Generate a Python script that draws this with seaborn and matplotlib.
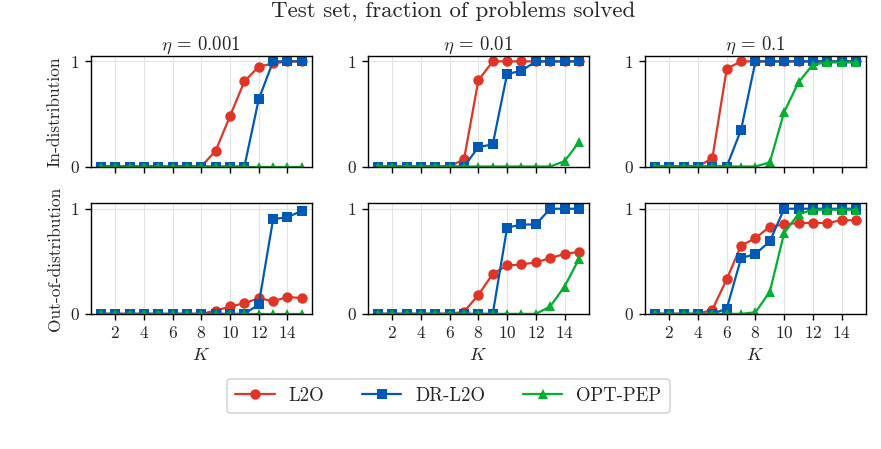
import numpy as np
import pandas as pd
import matplotlib
matplotlib.use("Agg")
import matplotlib.pyplot as plt
import seaborn as sns
from matplotlib.lines import Line2D

K = list(range(1, 16))
methods = ["L2O", "DR-L2O", "OPT-PEP"]
etas = ["0.001", "0.01", "0.1"]
rows = ["In-distribution", "Out-of-distribution"]

# In-distribution
in_l2o_0001 = [0, 0, 0, 0, 0, 0, 0, 0, 0.15, 0.48, 0.81, 0.95, 0.98, 1, 1]
in_dr_0001 = [0, 0, 0, 0, 0, 0, 0, 0, 0, 0, 0, 0.64, 1, 1, 1]
in_pep_0001 = [0, 0, 0, 0, 0, 0, 0, 0, 0, 0, 0, 0, 0, 0, 0]

in_l2o_001 = [0, 0, 0, 0, 0, 0, 0.07, 0.82, 1, 1, 1, 1, 1, 1, 1]
in_dr_001 = [0, 0, 0, 0, 0, 0, 0, 0.185, 0.21, 0.88, 0.91, 1, 1, 1, 1]
in_pep_001 = [0, 0, 0, 0, 0, 0, 0, 0, 0, 0, 0, 0, 0, 0.05, 0.23]

in_l2o_01 = [0, 0, 0, 0, 0.08, 0.93, 1, 1, 1, 1, 1, 1, 1, 1, 1]
in_dr_01 = [0, 0, 0, 0, 0, 0, 0.35, 1, 1, 1, 1, 1, 1, 1, 1]
in_pep_01 = [0, 0, 0, 0, 0, 0, 0, 0, 0.04, 0.52, 0.80, 0.97, 0.99, 0.99, 0.99]

# Out-of-distribution
out_l2o_0001 = [0, 0, 0, 0, 0, 0, 0, 0, 0.03, 0.07, 0.10, 0.15, 0.12, 0.16, 0.15]
out_dr_0001 = [0, 0, 0, 0, 0, 0, 0, 0, 0, 0, 0, 0.09, 0.90, 0.92, 0.98]
out_pep_0001 = [0, 0, 0, 0, 0, 0, 0, 0, 0, 0, 0, 0, 0, 0, 0]

out_l2o_001 = [0, 0, 0, 0, 0, 0, 0.02, 0.18, 0.38, 0.46, 0.47, 0.49, 0.53, 0.57, 0.59]
out_dr_001 = [0, 0, 0, 0, 0, 0, 0, 0, 0, 0.82, 0.85, 0.85, 1, 1, 1]
out_pep_001 = [0, 0, 0, 0, 0, 0, 0, 0, 0, 0, 0, 0, 0.07, 0.26, 0.52]

out_l2o_01 = [0, 0, 0, 0, 0.04, 0.33, 0.65, 0.72, 0.83, 0.85, 0.865, 0.865, 0.865, 0.89, 0.89]
out_dr_01 = [0, 0, 0, 0, 0, 0.05, 0.53, 0.57, 0.69, 1, 1, 1, 1, 1, 1]
out_pep_01 = [0, 0, 0, 0, 0, 0, 0, 0.015, 0.21, 0.77, 0.95, 0.99, 0.99, 0.99, 0.99]

panels = {
    (0, 0): (in_l2o_0001, in_dr_0001, in_pep_0001),
    (0, 1): (in_l2o_001, in_dr_001, in_pep_001),
    (0, 2): (in_l2o_01, in_dr_01, in_pep_01),
    (1, 0): (out_l2o_0001, out_dr_0001, out_pep_0001),
    (1, 1): (out_l2o_001, out_dr_001, out_pep_001),
    (1, 2): (out_l2o_01, out_dr_01, out_pep_01),
}

colors = {"L2O": "#e03526", "DR-L2O": "#005ab5", "OPT-PEP": "#00b02e"}
markers = {"L2O": "o", "DR-L2O": "s", "OPT-PEP": "^"}

sns.set_style("ticks")
plt.rcParams["font.family"] = ["cmr10", "DejaVu Serif"]
plt.rcParams["mathtext.fontset"] = "cm"
plt.rcParams["axes.formatter.use_mathtext"] = True

fig, axes = plt.subplots(2, 3, figsize=(8.81, 4.49), dpi=100, sharex=True)
fig.subplots_adjust(left=0.103, right=0.983, bottom=0.301, top=0.875,
                    wspace=0.253, hspace=0.335)

for (r, c), vals in panels.items():
    ax = axes[r, c]
    recs = []
    for m, v in zip(methods, vals):
        for k, y in zip(K, v):
            recs.append({"K": k, "frac": y, "method": m})
    df = pd.DataFrame(recs)
    sns.lineplot(data=df, x="K", y="frac", hue="method", style="method",
                 hue_order=methods, style_order=methods,
                 palette=colors, markers=markers, dashes=False,
                 markersize=7.5, markeredgewidth=0, linewidth=1.6,
                 legend=False, ax=ax)
    ax.set_ylim(0, 1.05)
    ax.set_yticks([0, 1])
    ax.set_xticks([2, 4, 6, 8, 10, 12, 14])
    ax.grid(True, color="#e3e3e3", linewidth=0.8)
    ax.set_axisbelow(True)
    for s in ax.spines.values():
        s.set_color("black")
        s.set_linewidth(1.0)
    ax.tick_params(axis="both", labelsize=12.5, length=4, width=1,
                   color="black", pad=4)
    ax.set_ylabel("")
    ax.set_xlabel("")
    if r == 0:
        ax.set_title(r"$\eta$ = " + etas[c], fontsize=13.5, pad=4)
        ax.tick_params(axis="x", labelbottom=False)
    else:
        ax.set_xlabel(r"$K$", fontsize=13, labelpad=4)
    if c == 0:
        ax.set_ylabel(rows[r], fontsize=12.5, labelpad=5)

fig.suptitle("Test set, fraction of problems solved", fontsize=16.5,
             x=0.514, y=0.998)

handles = [Line2D([], [], color=colors[m], marker=markers[m], markersize=7.5,
                  markeredgewidth=0, linewidth=1.6) for m in methods]
leg = fig.legend(handles, methods, loc="center", bbox_to_anchor=(0.509, 0.118),
                 ncol=3, fontsize=13.5, frameon=True, fancybox=True,
                 columnspacing=2.0, handlelength=2.1, handletextpad=0.75,
                 borderpad=0.45)
leg.get_frame().set_edgecolor("#cccccc")
leg.get_frame().set_linewidth(1.2)

fig.savefig("out.png", dpi=100)
